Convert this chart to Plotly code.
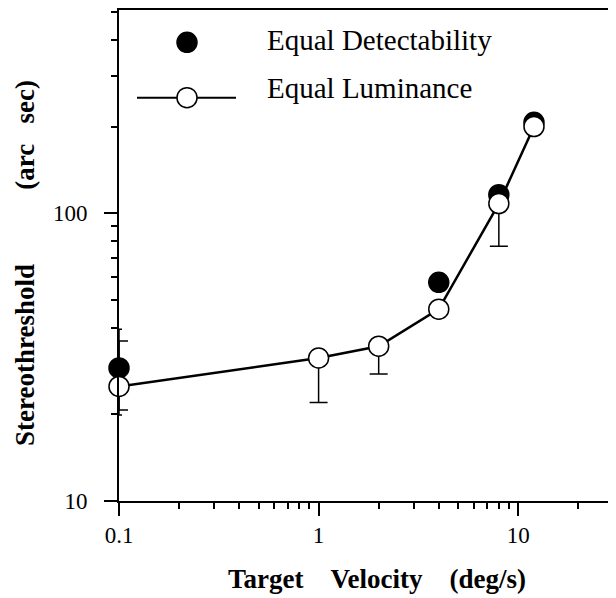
import plotly.graph_objects as go

# ---- data ----
velocity_lum = [0.1, 1, 2, 4, 8, 12]
thresh_lum = [25, 31.4, 34.5, 46.4, 108, 200]
err_up_lum = [11, 0, 0, 0, 0, 0]
err_down_lum = [4.3, 9.4, 6.9, 0, 31.2, 0]

velocity_det = [0.1, 4, 8, 12]
thresh_det = [29, 57.5, 116, 207]
err_up_det = [10.5, 0, 0, 0]
err_down_det = [9.1, 0, 0, 0]

x_tickvals = [0.1, 1, 10]
x_ticktext = ["0.1", "1", "10"]
x_minor = [0.2, 0.3, 0.4, 0.5, 0.6, 0.7, 0.8, 0.9, 2, 3, 4, 5, 6, 7, 8, 9, 20]
y_tickvals = [10, 100]
y_ticktext = ["10", "100"]
y_minor = [20, 30, 40, 50, 60, 70, 80, 90, 200, 300, 400, 500]

legend_names = ["Equal Detectability", "Equal Luminance"]
x_title = "Target\u00a0\u00a0\u00a0\u00a0Velocity\u00a0\u00a0\u00a0\u00a0(deg/s)"
y_title = "Stereothreshold" + "\u00a0" * 11 + "(arc\u00a0\u00a0\u00a0sec)"

FONT = "Liberation Serif, Times New Roman, serif"

fig = go.Figure()

fig.add_trace(go.Scatter(
    x=velocity_det, y=thresh_det, mode="markers", name=legend_names[0],
    marker=dict(symbol="circle", size=20, color="black", line=dict(color="black", width=1.5)),
    error_y=dict(type="data", symmetric=False, array=err_up_det, arrayminus=err_down_det,
                 color="black", thickness=1.5, width=3),
    cliponaxis=False,
))

fig.add_trace(go.Scatter(
    x=velocity_lum, y=thresh_lum, mode="lines+markers", name=legend_names[1],
    line=dict(color="black", width=2.5),
    marker=dict(symbol="circle", size=20, color="white", line=dict(color="black", width=1.5)),
    error_y=dict(type="data", symmetric=False, array=err_up_lum, arrayminus=err_down_lum,
                 color="black", thickness=1.5, width=9),
    cliponaxis=False,
))

# The page body adds an 8px offset; figure is sized so it fits the 616x598 window.
OFF = 8
W, H = 616 - OFF, 598 - OFF
L, R, T, B = 111, 5, 0, 97
pw, ph = W - L - R, H - T - B


def px(x):  # screen x -> paper
    return (x - OFF - L) / pw


def py(y):  # screen y -> paper
    return (H - B - (y - OFF)) / ph


shapes = [
    dict(type="circle", xref="paper", yref="paper", xsizemode="pixel", ysizemode="pixel",
         xanchor=px(187), yanchor=py(40.5), x0=-10, x1=10, y0=-10, y1=10,
         fillcolor="black", line=dict(color="black", width=1.5)),
    dict(type="line", xref="paper", yref="paper", x0=px(137), x1=px(236), y0=py(96), y1=py(96),
         line=dict(color="black", width=2)),
    dict(type="circle", xref="paper", yref="paper", xsizemode="pixel", ysizemode="pixel",
         xanchor=px(187), yanchor=py(96), x0=-10, x1=10, y0=-10, y1=10,
         fillcolor="white", line=dict(color="black", width=1.5)),
]

annotations = [
    dict(text=legend_names[0], xref="paper", yref="paper", x=px(265), y=py(38),
         xanchor="left", yanchor="middle", showarrow=False, font=dict(size=29, family=FONT, color="black")),
    dict(text=legend_names[1], xref="paper", yref="paper", x=px(265), y=py(86),
         xanchor="left", yanchor="middle", showarrow=False, font=dict(size=29, family=FONT, color="black")),
    dict(text="<b>" + x_title + "</b>", xref="paper", yref="paper", x=px(377), y=py(579),
         xanchor="center", yanchor="middle", showarrow=False, font=dict(size=27, family=FONT, color="black")),
    dict(text="<b>" + y_title + "</b>", xref="paper", yref="paper", x=px(25), y=py(262),
         xanchor="center", yanchor="middle", textangle=-90, showarrow=False,
         font=dict(size=27, family=FONT, color="black")),
]

fig.update_layout(
    width=W, height=H, margin=dict(l=L, r=R, t=T, b=B, pad=0),
    paper_bgcolor="white", plot_bgcolor="white", showlegend=False,
    font=dict(family=FONT, color="black"),
    shapes=shapes, annotations=annotations,
)

fig.update_xaxes(
    type="log", range=[-1, 1.465], showline=True, linewidth=2, linecolor="black", mirror=True,
    ticks="outside", ticklen=13, tickwidth=2, tickcolor="black",
    tickvals=x_tickvals, ticktext=x_ticktext, showgrid=False, zeroline=False,
    tickfont=dict(size=23, family=FONT, color="black"), ticklabelstandoff=-1,
    minor=dict(ticks="outside", ticklen=6, tickwidth=1.5, tickcolor="black", tickvals=x_minor, showgrid=False),
)
fig.update_yaxes(
    type="log", range=[1, 2.706], showline=True, linewidth=2, linecolor="black", mirror=True,
    ticks="outside", ticklen=13, tickwidth=2, tickcolor="black",
    tickvals=y_tickvals, ticktext=y_ticktext, showgrid=False, zeroline=False,
    tickfont=dict(size=23, family=FONT, color="black"), ticklabelstandoff=12,
    minor=dict(ticks="outside", ticklen=6, tickwidth=1.5, tickcolor="black", tickvals=y_minor, showgrid=False),
)

fig.write_html("out.html")
